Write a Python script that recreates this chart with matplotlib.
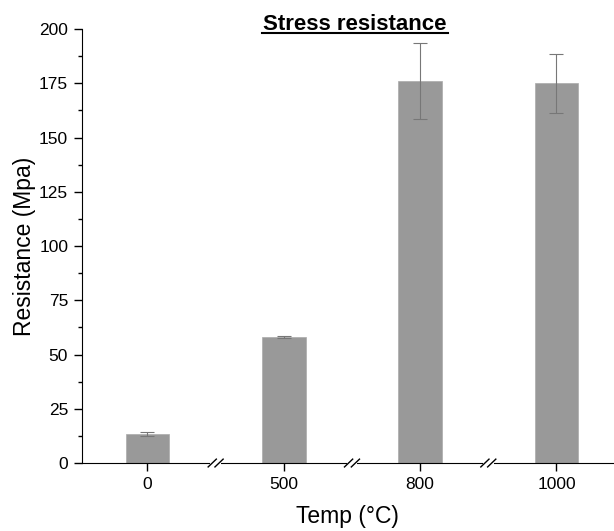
import numpy as np
import matplotlib
matplotlib.use("Agg")
import matplotlib.pyplot as plt
from matplotlib.ticker import MultipleLocator
import matplotlib.transforms as mtransforms
from matplotlib.lines import Line2D

temps = ["0", "500", "800", "1000"]
resistance = [13.5, 58.0, 176.0, 175.0]
errors = [1.0, 0.5, 17.5, 13.5]

plt.rcParams["font.family"] = ["Liberation Sans", "DejaVu Sans"]

fig = plt.figure(figsize=(6.14, 5.31), dpi=100)
ax = fig.add_axes([0.1336, 0.128, 0.866, 0.8174])

x = np.arange(len(temps))
ax.bar(x, resistance, width=0.32, color="#999999", edgecolor="#aaaaaa", lw=0.5,
       yerr=errors, error_kw=dict(ecolor="#777777", elinewidth=0.8, capsize=5, capthick=0.8))

ax.set_xlim(-0.48, 3.42)
ax.set_ylim(0, 200)
ax.yaxis.set_major_locator(MultipleLocator(25))
ax.yaxis.set_minor_locator(MultipleLocator(12.5))
ax.set_xticks(x)
ax.set_xticklabels(temps)

for s in ["top", "right"]:
    ax.spines[s].set_visible(False)
ax.tick_params(direction="out", labelsize=12.5, length=6, width=1, pad=4)
ax.tick_params(which="minor", direction="out", length=3, width=1)
ax.tick_params(axis="x", which="minor", length=0)

ax.set_xlabel("Temp (°C)", fontsize=16.5, labelpad=9.5)
ax.set_ylabel("Resistance (Mpa)", fontsize=16.5, labelpad=2)

# axis breaks between categories
trans = mtransforms.blended_transform_factory(ax.transData, ax.transAxes)
for xb in (x[:-1] + x[1:]) / 2:
    ax.add_patch(plt.Rectangle((xb - 0.04, -0.01), 0.08, 0.02, transform=trans,
                               facecolor="white", edgecolor="none", clip_on=False, zorder=5))
    for dx in (-0.025, 0.025):
        ax.plot([xb + dx - 0.03, xb + dx + 0.03], [-0.009, 0.009], transform=trans,
                color="black", lw=1, clip_on=False, zorder=6)

fig.text(0.578, 0.9435, "Stress resistance", ha="center", va="baseline",
         fontsize=16, fontweight="bold")
fig.add_artist(Line2D([0.4267, 0.7296], [0.9379, 0.9379], transform=fig.transFigure,
                      color="black", lw=1.5))

fig.savefig("out.png", dpi=100)
